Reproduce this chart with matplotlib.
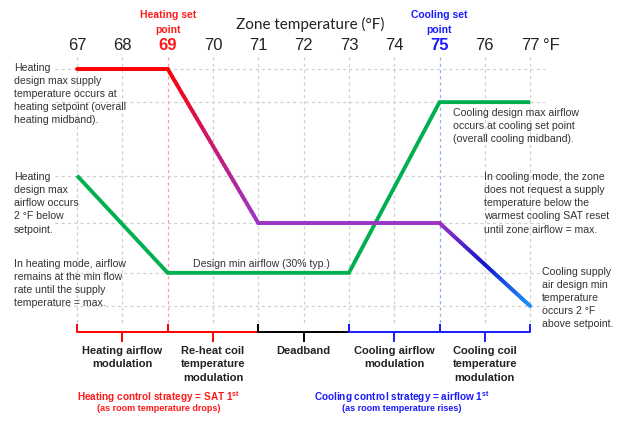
import numpy as np
import matplotlib
matplotlib.use("Agg")
import matplotlib.pyplot as plt
from matplotlib.collections import LineCollection
from matplotlib.colors import LinearSegmentedColormap

plt.rcParams['font.family'] = ['Liberation Sans', 'DejaVu Sans']

# zone temperature axis (°F)
temps = [67, 68, 69, 70, 71, 72, 73, 74, 75, 76, 77]
heat_sp = 69
cool_sp = 75

# supply air temperature request (relative scale, 0..100)
sat_x = [67, 69, 71, 75, 77]
sat_y = [100, 100, 35, 35, 0]
sat_colors = [["#ff0000", "#ff0000"],
              ["#ff0000", "#c81a70", "#9c35c6"],
              ["#9c35c6", "#9c35c6"],
              ["#9c35c6", "#1414c8", "#1e90ff"]]

# airflow (relative scale)
flow_x = [67, 69, 73, 75, 77]
flow_y = [55, 14, 14, 86, 86]

grid_y = [100, 86, 55, 35, 14, 0]

# control zones under the chart
zones = [(67, 69, "Heating airflow\nmodulation", "#ff0000"),
         (69, 71, "Re-heat coil\ntemperature\nmodulation", "#ff0000"),
         (71, 73, "Deadband", "#000000"),
         (73, 75, "Cooling airflow\nmodulation", "#1a1aff"),
         (75, 77, "Cooling coil\ntemperature\nmodulation", "#1a1aff")]

notes = [
    (65.61, 102.8, "Heating\ndesign max supply\ntemperature occurs at\nheating setpoint (overall\nheating midband)."),
    (65.61, 56.8, "Heating\ndesign max\nairflow occurs\n2 °F below\nsetpoint."),
    (65.61, 20.1, "In heating mode, airflow\nremains at the min flow\nrate until the supply\ntemperature = max."),
    (75.30, 83.8, "Cooling design max airflow\noccurs at cooling set point\n(overall cooling midband)."),
    (75.98, 56.8, "In cooling mode, the zone\ndoes not request a supply\ntemperature below the\nwarmest cooling SAT reset\nuntil zone airflow = max."),
    (77.26, 16.8, "Cooling supply\nair design min\ntemperature\noccurs 2 °F\nabove setpoint."),
]


def gradient_line(ax, xs, ys, colors, lw):
    segs, cols = [], []
    for i in range(len(xs) - 1):
        cmap = LinearSegmentedColormap.from_list("seg", colors[i])
        t = np.linspace(0, 1, 41)
        px = xs[i] + (xs[i + 1] - xs[i]) * t
        py = ys[i] + (ys[i + 1] - ys[i]) * t
        for j in range(len(t) - 1):
            segs.append([(px[j], py[j]), (px[j + 1], py[j + 1])])
            cols.append(cmap((t[j] + t[j + 1]) / 2))
    lc = LineCollection(segs, colors=cols, linewidths=lw, capstyle='round', zorder=4)
    ax.add_collection(lc)


fig = plt.figure(figsize=(6.33, 4.27), dpi=100)
ax = fig.add_axes([0, 0, 1, 1])
ax.set_xlim(65.30, 79.27)
ax.set_ylim(-50.6, 129.5)
ax.axis('off')

gray = "#d0d0d0"
for t in temps:
    if t == heat_sp:
        c = "#f2a0a0"
    elif t == cool_sp:
        c = "#8fb4e0"
    else:
        c = gray
    ax.plot([t, t], [105, -8], color=c, lw=0.9, ls=(0, (2.5, 2.5)), zorder=1)
for g in grid_y:
    ax.plot([66.51, 77.33], [g, g], color=gray, lw=0.9, ls=(0, (2.5, 2.5)), zorder=1)

# lines
ax.plot(flow_x, flow_y, color="#00b050", lw=2.8, solid_capstyle='butt',
        solid_joinstyle='miter', zorder=3)
gradient_line(ax, sat_x, sat_y, sat_colors, 2.8)

# tick labels along the top
for t in temps:
    if t == heat_sp:
        ax.text(t, 110.5, str(t), color="#ff1a1a", fontsize=12, fontweight='bold',
                ha='center', va='center')
    elif t == cool_sp:
        ax.text(t, 110.5, str(t), color="#1a1aff", fontsize=12, fontweight='bold',
                ha='center', va='center')
    else:
        ax.text(t, 110.5, str(t), color="#222222", fontsize=12, ha='center', va='center')
ax.text(77.28, 110.5, "°F", color="#222222", fontsize=12, ha='left', va='center')

ax.text(72.15, 119.2, "Zone temperature (°F)", fontsize=11, family=['Lato', 'DejaVu Sans'],
        color="#222222", ha='center', va='center')
ax.text(heat_sp, 120, "Heating set\npoint", color="#ff1a1a", fontsize=7.5, fontweight='bold',
        ha='center', va='center', linespacing=1.55)
ax.text(cool_sp, 120, "Cooling set\npoint", color="#1a1aff", fontsize=7.5, fontweight='bold',
        ha='center', va='center', linespacing=1.55)

for x, y, s in notes:
    ax.text(x, y, s, fontsize=7.6, color="#333333", ha='left', va='top', linespacing=1.38)
ax.text(69.56, 18.1, "Design min airflow (30% typ.)", fontsize=7.6, color="#333333",
        ha='left', va='center')

# brackets and zone labels
for x0, x1, label, c in zones:
    mid = (x0 + x1) / 2
    ax.plot([x0, x0, x1, x1], [-8, -11, -11, -8], color=c, lw=1.4, zorder=2)
    ax.plot([mid, mid], [-11, -14.8], color=c, lw=1.4, zorder=2)
    ax.text(mid, -16.3, label, fontsize=8, fontweight='bold', color="#222222",
            ha='center', va='top', linespacing=1.45)

ax.text(68.8, -38.0, r"Heating control strategy = SAT 1$^{\mathregular{st}}$", color="#ff1a1a",
        fontsize=7.2, fontweight='bold', ha='center', va='center')
ax.text(68.8, -42.6, "(as room temperature drops)", color="#ff1a1a",
        fontsize=6.5, fontweight='bold', ha='center', va='center')
ax.text(74.17, -38.0, r"Cooling control strategy = airflow 1$^{\mathregular{st}}$", color="#1a1aff",
        fontsize=7.2, fontweight='bold', ha='center', va='center')
ax.text(74.17, -42.6, "(as room temperature rises)", color="#1a1aff",
        fontsize=6.5, fontweight='bold', ha='center', va='center')

fig.savefig("out.png", dpi=100)
